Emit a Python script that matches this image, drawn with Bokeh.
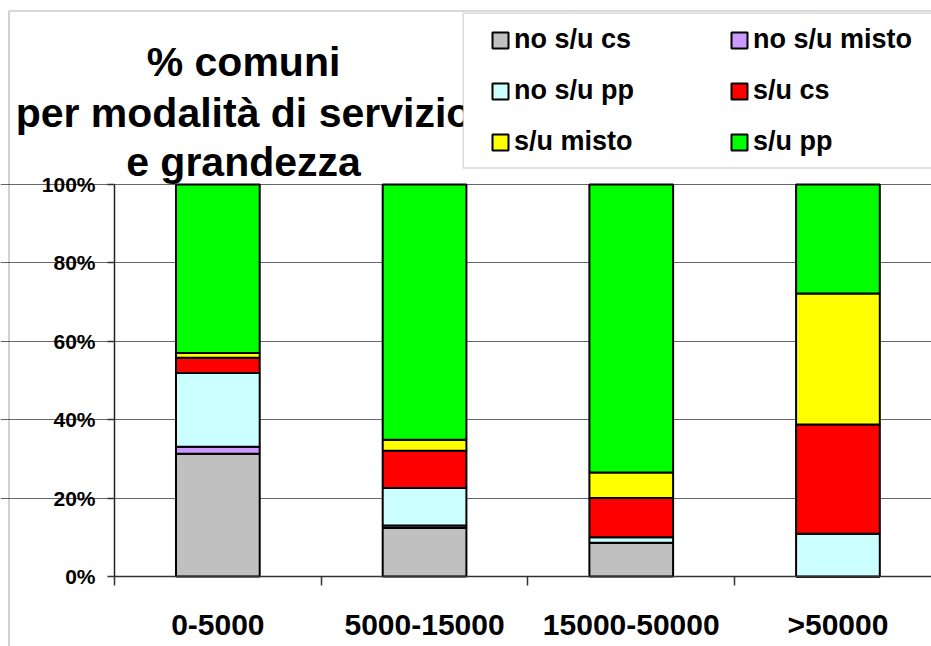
from bokeh.plotting import figure
from bokeh.models import (ColumnDataSource, FixedTicker, Range1d, Label, BoxAnnotation,
                          Legend, LegendItem, PrintfTickFormatter)
from bokeh.embed import file_html
from bokeh.resources import INLINE

# ---- data ----
categories = ["0-5000", "5000-15000", "15000-50000", ">50000"]
series_names = ["no s/u cs", "no s/u misto", "no s/u pp", "s/u cs", "s/u misto", "s/u pp"]
no_su_cs = [31.3, 12.4, 8.6, 0.0]
no_su_misto = [1.8, 0.6, 0.0, 0.0]
no_su_pp = [18.8, 9.6, 1.4, 10.9]
su_cs = [3.9, 9.5, 10.0, 27.9]
su_misto = [1.2, 2.8, 6.5, 33.4]
su_pp = [43.0, 65.1, 73.5, 27.8]
colors = ["#C0C0C0", "#CC99FF", "#CCFFFF", "#FF0000", "#FFFF00", "#00FF00"]
title_lines = ["% comuni", "per modalità di servizio", "e grandezza"]
y_ticks = [0, 20, 40, 60, 80, 100]

FONT = "Liberation Sans"

xs = list(range(1, len(categories) + 1))
keys = ["s%d" % i for i in range(len(series_names))]
data = {"x": xs}
for k, vals in zip(keys, [no_su_cs, no_su_misto, no_su_pp, su_cs, su_misto, su_pp]):
    data[k] = vals
src = ColumnDataSource(data)

x_left = 0.5  # left edge of the plot area (category boundary)
PX_X = 206.7  # pixels per category
PX_Y = 3.92   # pixels per percent
p = figure(width=931, height=646, output_backend="svg", toolbar_location=None,
           x_range=Range1d(x_left - 114 / PX_X, x_left + 817 / PX_X),
           y_range=Range1d(-70 / PX_Y, 576 / PX_Y),
           min_border_left=0, min_border_right=0, min_border_top=0, min_border_bottom=0)
p.title.text = ""
p.outline_line_color = None
p.background_fill_color = "white"
p.border_fill_color = "white"

renderers = p.vbar_stack(keys, x="x", width=0.405, color=colors, line_color="black",
                         line_width=2, source=src)

# axes
p.xaxis.fixed_location = 0
p.xaxis.ticker = FixedTicker(ticks=xs, minor_ticks=[x - 0.5 for x in xs])
p.xaxis.major_label_overrides = {x: c for x, c in zip(xs, categories)}
p.xaxis.bounds = (x_left, 10)
p.xaxis.major_tick_out = 0
p.xaxis.major_tick_in = 0
p.xaxis.minor_tick_out = 9
p.xaxis.minor_tick_in = 0
p.xaxis.minor_tick_line_color = "#333333"
p.xaxis.minor_tick_line_width = 1.5
p.xaxis.axis_line_color = "#333333"
p.xaxis.axis_line_width = 1.5
p.xaxis.major_label_standoff = 22
p.xaxis.major_label_text_font = FONT
p.xaxis.major_label_text_font_style = "bold"
p.xaxis.major_label_text_font_size = "30px"
p.xaxis.major_label_text_color = "black"

p.yaxis.fixed_location = x_left
p.yaxis.ticker = FixedTicker(ticks=y_ticks, minor_ticks=[])
p.yaxis.formatter = PrintfTickFormatter(format="%d%%")
p.yaxis.bounds = (0, 100)
p.yaxis.major_tick_out = 7
p.yaxis.major_tick_in = 0
p.yaxis.major_tick_line_color = "#333333"
p.yaxis.major_tick_line_width = 1.5
p.yaxis.minor_tick_line_color = None
p.yaxis.axis_line_color = "#222222"
p.yaxis.axis_line_width = 1.5
p.yaxis.major_label_standoff = 12
p.yaxis.major_label_text_font = FONT
p.yaxis.major_label_text_font_style = "bold"
p.yaxis.major_label_text_font_size = "21px"
p.yaxis.major_label_text_color = "black"

p.xgrid.grid_line_color = None
p.ygrid.ticker = FixedTicker(ticks=y_ticks[1:])
p.ygrid.bounds = (x_left, 10)
p.ygrid.grid_line_color = "#666666"
p.ygrid.grid_line_width = 1.2

# outer chart border (left and top edges visible)
p.add_layout(BoxAnnotation(left=8.5, right=2000, top=10.5, bottom=2000,
                           left_units="canvas", right_units="canvas",
                           top_units="canvas", bottom_units="canvas",
                           fill_alpha=0, line_color="black", line_width=1.2,
                           level="overlay"))

# title (multi-line), positioned in canvas pixels
title_y = [61, 112, 161]
for t, ty in zip(title_lines, title_y):
    p.add_layout(Label(x=243, y=ty, x_units="canvas", y_units="canvas", text=t,
                       text_align="center", text_baseline="alphabetic",
                       text_font=FONT, text_font_style="bold", text_font_size="41px",
                       text_color="black", level="overlay"))

# legend frame
p.add_layout(BoxAnnotation(left=2.187, right=5.0, top=143.7, bottom=104.2,
                           fill_color="white", fill_alpha=1.0,
                           line_color="#808080", line_width=1.5, level="overlay"))

order = [0, 2, 4, 1, 3, 5]  # fills column-wise -> reads row-wise as in the original
items = [LegendItem(label=series_names[i], renderers=[renderers[i]]) for i in order]
legend = Legend(items=items, location=(490, 489), ncols=2, border_line_color=None,
                background_fill_alpha=0, padding=10, spacing=20, margin=0,
                glyph_width=20, glyph_height=20, label_standoff=4,
                label_width=195, label_height=31,
                label_text_font=FONT, label_text_font_style="bold",
                label_text_font_size="27px", label_text_color="black")
p.add_layout(legend)

open("out.html", "w").write(file_html(p, INLINE))
